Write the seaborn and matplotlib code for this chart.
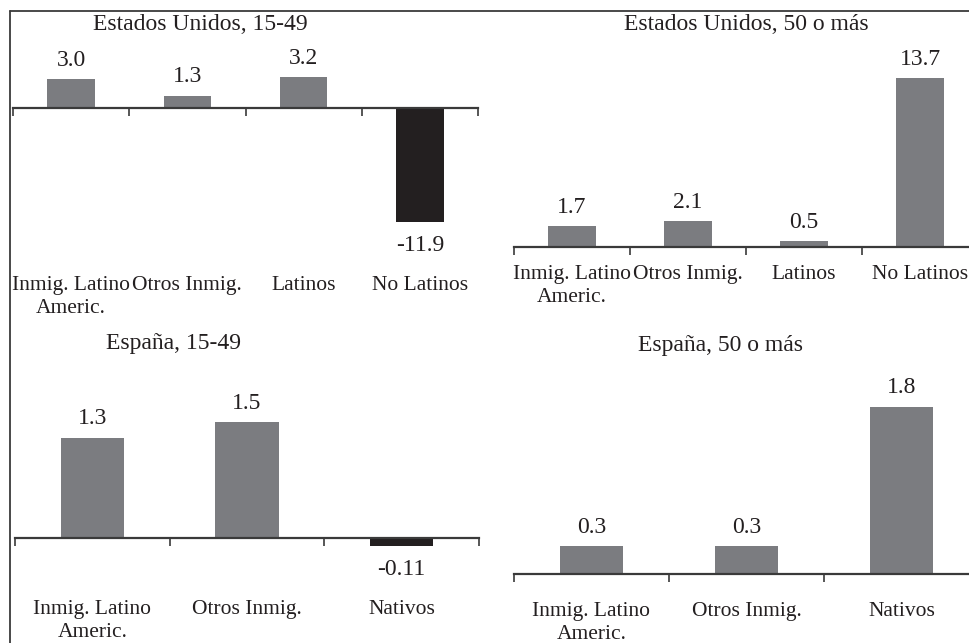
import matplotlib
matplotlib.use("Agg")
import matplotlib.pyplot as plt
from matplotlib.lines import Line2D
from matplotlib.transforms import blended_transform_factory
import seaborn as sns

# Categories per country
us_cats = ["Inmig. Latino\nAmeric.", "Otros Inmig.", "Latinos", "No Latinos"]
es_cats = ["Inmig. Latino\nAmeric.", "Otros Inmig.", "Nativos"]

# Values per panel
us_young = [3.0, 1.3, 3.2, -11.9]
us_old = [1.7, 2.1, 0.5, 13.7]
es_young = [1.3, 1.5, -0.11]
es_old = [0.3, 0.3, 1.8]

titles = ["Estados Unidos, 15-49", "Estados Unidos, 50 o más",
          "España, 15-49", "España, 50 o más"]

W, H = 969, 643
sns.set_theme(style="white")
plt.rcParams["font.family"] = ["Liberation Serif", "DejaVu Serif"]

GRAY = "#7b7c80"
DARK = "#231f20"
TEXT = "#231f20"
AXIS = "#3a3a3a"

fig = plt.figure(figsize=(W / 100, H / 100), dpi=100)
fig.patch.set_facecolor("white")

# panel layout in pixels: x extent, baseline, pixels per unit, axes top/bottom,
# category label row, title position
panels = [
    dict(cats=us_cats, vals=us_young, title=titles[0], left=13, right=478,
         base=108, scale=9.6, top=30, bottom=262, label_y=287, tx=200, ty=24),
    dict(cats=us_cats, vals=us_old, title=titles[1], left=514, right=978,
         base=247, scale=12.3, top=30, bottom=262, label_y=276, tx=746, ty=24),
    dict(cats=es_cats, vals=es_young, title=titles[2], left=15, right=479,
         base=538, scale=77.2, top=360, bottom=590, label_y=611, tx=173, ty=344),
    dict(cats=es_cats, vals=es_old, title=titles[3], left=514, right=979,
         base=574, scale=93.0, top=360, bottom=600, label_y=613, tx=720, ty=345),
]

for p in panels:
    ax = fig.add_axes([p["left"] / W, 1 - p["bottom"] / H,
                       (p["right"] - p["left"]) / W, (p["bottom"] - p["top"]) / H])
    ax.set_facecolor("none")
    n = len(p["cats"])
    colors = [GRAY if v >= 0 else DARK for v in p["vals"]]
    sns.barplot(x=p["cats"], y=p["vals"], hue=p["cats"], palette=colors,
                width=0.41, saturation=1, legend=False, linewidth=0, ax=ax)

    ax.set_xlim(-0.5, n - 0.5)
    ax.set_ylim(-(p["bottom"] - p["base"]) / p["scale"],
                (p["base"] - p["top"]) / p["scale"])

    for s in ("top", "right", "left"):
        ax.spines[s].set_visible(False)
    ax.spines["bottom"].set_position(("data", 0))
    ax.spines["bottom"].set_color(AXIS)
    ax.spines["bottom"].set_linewidth(1.6)
    ax.set_yticks([])
    ax.set_xticks([i - 0.5 for i in range(n + 1)], labels=[""] * (n + 1))
    ax.tick_params(axis="x", direction="out", length=6, width=1.2, color=AXIS,
                   bottom=True)
    ax.set_xlabel("")
    ax.set_ylabel("")

    # value labels
    for i, v in enumerate(p["vals"]):
        ax.annotate(str(v), xy=(i, v), xytext=(0, 6 if v >= 0 else -9),
                    textcoords="offset points", ha="center",
                    va="bottom" if v >= 0 else "top",
                    fontsize=17, color=TEXT)

    # category labels
    trans = blended_transform_factory(ax.transData, fig.transFigure)
    for i, c in enumerate(p["cats"]):
        ax.text(i, 1 - (p["label_y"] - 11) / H, c, transform=trans,
                ha="center", va="top", fontsize=15.5, color=TEXT,
                linespacing=1.3, clip_on=False)

    fig.text(p["tx"] / W, 1 - p["ty"] / H, p["title"], ha="center",
             va="center", fontsize=17, color=TEXT)

# outer frame (top and left edges)
fig.add_artist(Line2D([10 / W, 1.01], [1 - 11 / H, 1 - 11 / H],
                      transform=fig.transFigure, color=AXIS, lw=1.3))
fig.add_artist(Line2D([10 / W, 10 / W], [1 - 11 / H, -0.01],
                      transform=fig.transFigure, color=AXIS, lw=1.3))

fig.savefig("out.png", dpi=100, facecolor="white")
